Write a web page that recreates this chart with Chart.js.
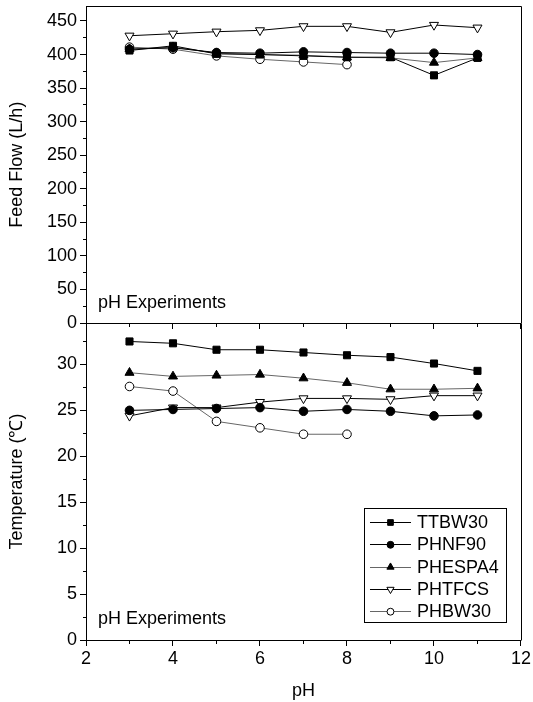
<!DOCTYPE html>
<html><head><meta charset="utf-8">
<script src="https://cdn.jsdelivr.net/npm/chart.js@4.4.0/dist/chart.umd.min.js"></script>
<style>html,body{margin:0;padding:0;background:#fff;}</style>
</head><body>
<canvas id="c" width="533" height="702"></canvas>
<script>
// ---- data ----
const pH = [3, 4, 5, 6, 7, 8, 9, 10, 11];
const pHBW30 = [3, 4, 5, 6, 7, 8];
const seriesNames = ['TTBW30', 'PHNF90', 'PHESPA4', 'PHTFCS', 'PHBW30'];
const flowTTBW30 = [406, 413, 401, 400, 398, 396, 396, 369, 395];
const flowPHNF90 = [408, 410, 403, 402, 404, 403, 402, 402, 400];
const flowPHESPA4 = [408, 411, 402, 400, 399, 396, 395, 388, 395];
const flowPHTFCS = [428, 431, 434, 436, 442, 442, 433, 444, 440];
const flowPHBW30 = [411, 408, 398, 393, 389, 385];
const tempTTBW30 = [32.5, 32.3, 31.6, 31.6, 31.3, 31.0, 30.8, 30.1, 29.3];
const tempPHNF90 = [25.0, 25.1, 25.2, 25.3, 24.9, 25.1, 24.9, 24.4, 24.5];
const tempPHESPA4 = [29.1, 28.7, 28.8, 28.9, 28.5, 28.0, 27.3, 27.3, 27.4];
const tempPHTFCS = [24.4, 25.3, 25.3, 25.9, 26.3, 26.3, 26.2, 26.6, 26.6];
const tempPHBW30 = [27.6, 27.1, 23.8, 23.1, 22.4, 22.4];
const xTickLabels = [2, 4, 6, 8, 10, 12];
const flowTickLabels = [0, 50, 100, 150, 200, 250, 300, 350, 400, 450];
const tempTickLabels = [0, 5, 10, 15, 20, 25, 30];
const annotationText = 'pH Experiments';

// ---- styles ----
const FONT = '"Liberation Sans", Arial, Helvetica, sans-serif';
Chart.defaults.font.family = FONT;
Chart.defaults.font.size = 18;
Chart.defaults.color = '#000';

const styles = {
  TTBW30: {line: '#000', style: 'rect', r: 5, rot: 0, fill: '#000'},
  PHNF90: {line: '#000', style: 'circle', r: 4.3, rot: 0, fill: '#000'},
  PHESPA4: {line: '#666', style: 'triangle', r: 5.2, rot: 0, fill: '#000'},
  PHTFCS: {line: '#000', style: 'triangle', r: 5.2, rot: 180, fill: '#fff'},
  PHBW30: {line: '#666', style: 'circle', r: 4.3, rot: 0, fill: '#fff'}
};
const flowData = [flowTTBW30, flowPHNF90, flowPHESPA4, flowPHTFCS, flowPHBW30];
const tempData = [tempTTBW30, tempPHNF90, tempPHESPA4, tempPHTFCS, tempPHBW30];

function pts(xs, ys) { return ys.map((v, i) => ({x: xs[i], y: v})); }
function mk(name, values, axis) {
  const s = styles[name];
  const xs = name === 'PHBW30' ? pHBW30 : pH;
  return {
    label: name, yAxisID: axis, xAxisID: 'x',
    data: pts(xs, values),
    borderColor: s.line, borderWidth: 1,
    pointStyle: s.style, pointRadius: s.r, pointRotation: s.rot,
    pointBackgroundColor: s.fill, pointBorderColor: '#000', pointBorderWidth: 1,
    pointHoverRadius: s.r, tension: 0, fill: false
  };
}
const datasets = [];
seriesNames.forEach((n, i) => datasets.push(mk(n, flowData[i], 'yTop')));
seriesNames.forEach((n, i) => datasets.push(mk(n, tempData[i], 'yBot')));

const minorDashLeft = [0, 3, 3, 30];
const minorDashDown = [3, 30];

const framePlugin = {
  id: 'frame',
  afterDraw(chart) {
    const c = chart.ctx, a = chart.chartArea;
    c.save();
    c.strokeStyle = '#000'; c.lineWidth = 1;
    c.beginPath();
    c.moveTo(Math.round(a.left) + 0.5, Math.round(a.top) + 0.5);
    c.lineTo(Math.round(a.right) + 0.5, Math.round(a.top) + 0.5);
    c.lineTo(Math.round(a.right) + 0.5, Math.round(a.bottom) + 0.5);
    c.stroke();
    // annotations
    c.fillStyle = '#000';
    c.font = '18px ' + FONT;
    c.textBaseline = 'alphabetic';
    c.textAlign = 'left';
    const yT = chart.scales.yTop, yB = chart.scales.yBot;
    c.fillText(annotationText, a.left + 12, yT.getPixelForValue(0) - 15);
    c.fillText(annotationText, a.left + 12, yB.getPixelForValue(0) - 16);
    // legend
    const right = a.right - 15, bottom = yB.getPixelForValue(0) - 18;
    const w = 142, h = 114, left = right - w, top = bottom - h;
    c.fillStyle = '#fff';
    c.fillRect(left, top, w, h);
    c.strokeStyle = '#000';
    c.strokeRect(Math.round(left) + 0.5, Math.round(top) + 0.5, w, h);
    const items = chart.data.datasets.filter(d => d.yAxisID === 'yBot');
    items.forEach((d, i) => {
      const cy = top + 14 + i * 22.3;
      c.strokeStyle = d.borderColor; c.lineWidth = 1;
      c.beginPath(); c.moveTo(left + 6, Math.round(cy) + 0.5); c.lineTo(left + 47, Math.round(cy) + 0.5); c.stroke();
      c.fillStyle = d.pointBackgroundColor; c.strokeStyle = '#000';
      Chart.helpers.drawPoint(c, {pointStyle: d.pointStyle, radius: d.pointRadius * 0.8, rotation: d.pointRotation, borderWidth: 1}, left + 26.5, cy + 0.5);
      c.fillStyle = '#000';
      c.textBaseline = 'middle';
      c.font = '18px ' + FONT;
      c.fillText(d.label, left + 53, cy + 1);
    });
    c.restore();
  }
};

function yAxis(max, step, labels, title, weight) {
  return {
    type: 'linear', position: 'left', stack: 'panels', stackWeight: 1, weight: weight,
    min: 0, max: max,
    border: {display: true, color: '#000', width: 1},
    grid: {
      drawOnChartArea: false, drawTicks: true, tickLength: 6, tickColor: '#000', tickWidth: 1,
      tickBorderDash: (ctx) => (ctx.tick && labels.includes(ctx.tick.value)) ? [] : minorDashLeft
    },
    ticks: {
      stepSize: step, includeBounds: false, padding: 3, autoSkip: false,
      font: {size: 18},
      callback: (v) => labels.includes(v) ? String(v) : ''
    },
    title: {display: true, text: title, font: {size: 18}, padding: {top: 6, bottom: 0}},
    afterFit: (s) => { s.width = 86; s.paddingTop = 0; s.paddingBottom = 0; }
  };
}

new Chart(document.getElementById('c'), {
  type: 'line',
  data: {datasets: datasets},
  options: {
    responsive: false, animation: false, devicePixelRatio: 1,
    layout: {padding: {top: 6, right: 11, left: 0, bottom: 0}},
    plugins: {legend: {display: false}, tooltip: {enabled: false}},
    scales: {
      x: {
        type: 'linear', position: 'bottom', min: 2, max: 12,
        border: {display: true, color: '#000', width: 1},
        grid: {
          drawOnChartArea: false, tickLength: 6, tickColor: '#000', tickWidth: 1,
          tickBorderDash: (ctx) => (ctx.tick && xTickLabels.includes(ctx.tick.value)) ? [] : minorDashDown
        },
        ticks: {stepSize: 1, autoSkip: false, maxRotation: 0, padding: 2, font: {size: 18},
          callback: (v) => xTickLabels.includes(v) ? String(v) : ''},
        title: {display: true, text: 'pH', font: {size: 18}, padding: {top: 4, bottom: 0}},
        afterFit: (s) => { s.height = 62; }
      },
      yBot: yAxis(34.5, 2.5, tempTickLabels, 'Temperature (\u2103)', 0),
      yTop: yAxis(472, 25, flowTickLabels, 'Feed Flow (L/h)', 0),
      x2: {
        type: 'linear', position: {yTop: 0}, min: 2, max: 12,
        border: {display: true, color: '#000', width: 1},
        grid: {
          drawOnChartArea: false, tickLength: 5, tickColor: '#000', tickWidth: 1,
          tickBorderDash: (ctx) => (ctx.tick && xTickLabels.includes(ctx.tick.value)) ? [] : minorDashDown
        },
        ticks: {stepSize: 1, autoSkip: false, display: false}
      }
    }
  },
  plugins: [framePlugin]
});
</script>
</body></html>
